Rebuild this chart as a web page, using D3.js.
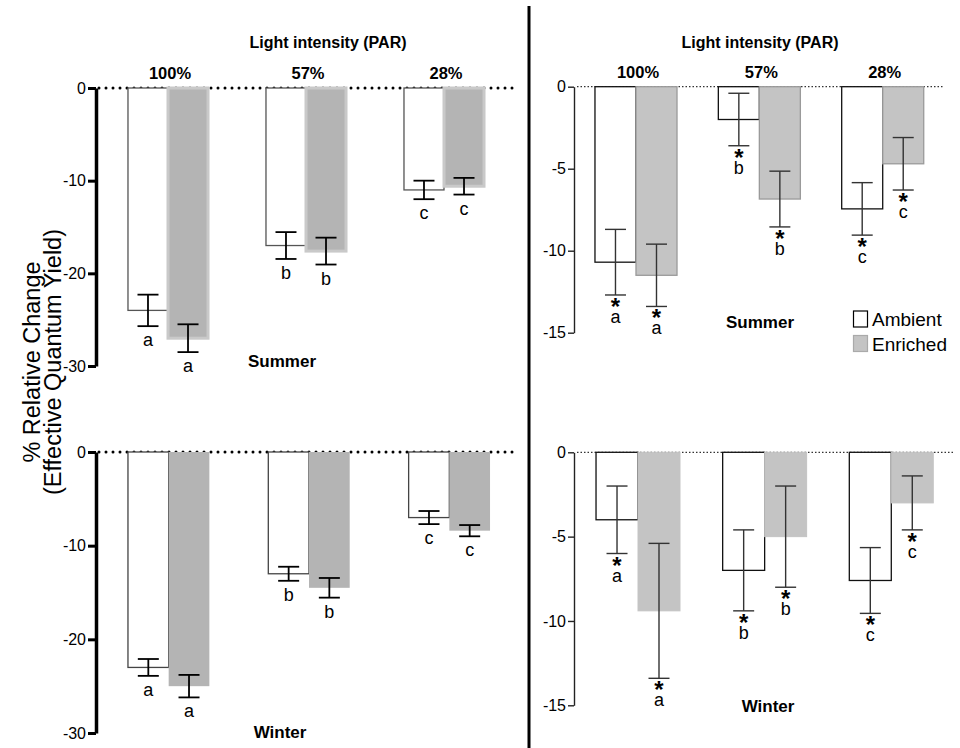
<!DOCTYPE html>
<html>
<head>
<meta charset="utf-8">
<script src="https://cdn.jsdelivr.net/npm/d3@7"></script>
<style>
  body { margin: 0; background: #fff; }
  svg { display: block; }
</style>
</head>
<body>
<svg id="chart" width="960" height="748"></svg>
<script>
const FONT = "'Liberation Sans', Arial, sans-serif";

const LIGHT_LEVELS = ["100%", "57%", "28%"];
const TREATMENTS = ["Ambient", "Enriched"];
const GROUP_LETTERS = ["a", "b", "c"];
const LEFT_TICKS = [0, -10, -20, -30];
const RIGHT_TICKS = [0, -5, -10, -15];

// left half (means and SE, % relative change)
const leftSummerAmbient = [-24.0, -17.0, -11.0];
const leftSummerAmbientSE = [1.7, 1.45, 1.0];
const leftSummerEnriched = [-27.0, -17.6, -10.6];
const leftSummerEnrichedSE = [1.5, 1.45, 0.9];
const leftWinterAmbient = [-23.0, -13.0, -7.0];
const leftWinterAmbientSE = [0.9, 0.75, 0.7];
const leftWinterEnriched = [-25.0, -14.5, -8.4];
const leftWinterEnrichedSE = [1.2, 1.05, 0.6];

// right half
const rightSummerAmbient = [-10.7, -2.0, -7.45];
const rightSummerAmbientSE = [2.0, 1.6, 1.6];
const rightSummerEnriched = [-11.5, -6.85, -4.7];
const rightSummerEnrichedSE = [1.9, 1.7, 1.6];
const rightWinterAmbient = [-4.0, -7.0, -7.6];
const rightWinterAmbientSE = [2.0, 2.4, 1.95];
const rightWinterEnriched = [-9.4, -5.0, -3.0];
const rightWinterEnrichedSE = [4.0, 3.0, 1.6];

const svg = d3.select("#chart");

function drawPanel(cfg) {
    const y = d3.scaleLinear().domain([d3.min(cfg.ticks), 0]).range(cfg.yRange);

    const x0 = d3.scaleBand()
        .domain(LIGHT_LEVELS)
        .range(cfg.xRange)
        .paddingInner(cfg.padInner)
        .paddingOuter(cfg.padOuter);
    const x1 = d3.scaleBand()
        .domain(TREATMENTS)
        .range([0, x0.bandwidth()]);

    const rows = [];
    LIGHT_LEVELS.forEach((lvl, i) => {
        rows.push({ lvl, t: "Ambient", v: cfg.ambient[i], se: cfg.ambientSE[i], letter: GROUP_LETTERS[i] });
        rows.push({ lvl, t: "Enriched", v: cfg.enriched[i], se: cfg.enrichedSE[i], letter: GROUP_LETTERS[i] });
    });
    const cx = (d) => x0(d.lvl) + x1(d.t) + x1.bandwidth() / 2;

    const g = svg.append("g");

    // zero reference line (dotted)
    g.append("line")
        .attr("x1", cfg.axisX + 3).attr("x2", cfg.zeroEnd)
        .attr("y1", y(0)).attr("y2", y(0))
        .attr("stroke", cfg.bold ? "#000" : "#333")
        .attr("stroke-width", cfg.bold ? 3 : 1.2)
        .attr("stroke-linecap", cfg.bold ? "round" : "butt")
        .attr("stroke-dasharray", cfg.bold ? "0 7" : "1.5 2");

    // bars
    g.selectAll(".bar")
        .data(rows)
        .join("rect")
        .attr("class", "bar")
        .attr("x", (d) => x0(d.lvl) + x1(d.t))
        .attr("width", x1.bandwidth())
        .attr("y", y(0))
        .attr("height", (d) => y(d.v) - y(0))
        .attr("fill", (d) => d.t === "Ambient" ? "#fff" : cfg.enrichedFill)
        .attr("stroke", (d) => d.t === "Ambient" ? cfg.ambientStroke : cfg.enrichedStroke)
        .attr("stroke-width", (d) => d.t === "Ambient" ? 1.3 : cfg.enrichedStrokeWidth);

    // error bars
    const err = g.selectAll(".err")
        .data(rows)
        .join("g")
        .attr("class", "err")
        .attr("stroke", cfg.bold ? "#000" : "#333")
        .attr("stroke-width", cfg.bold ? 1.8 : 1.4);
    err.append("line")
        .attr("x1", cx).attr("x2", cx)
        .attr("y1", (d) => y(d.v + d.se)).attr("y2", (d) => y(d.v - d.se));
    err.append("line")
        .attr("x1", (d) => cx(d) - 10.5).attr("x2", (d) => cx(d) + 10.5)
        .attr("y1", (d) => y(d.v + d.se)).attr("y2", (d) => y(d.v + d.se));
    err.append("line")
        .attr("x1", (d) => cx(d) - 10.5).attr("x2", (d) => cx(d) + 10.5)
        .attr("y1", (d) => y(d.v - d.se)).attr("y2", (d) => y(d.v - d.se));

    // group letters, with the significance star above them on the right half
    const marks = g.selectAll(".mark")
        .data(rows)
        .join("text")
        .attr("class", "mark")
        .attr("text-anchor", "middle")
        .style("font-family", FONT)
        .style("font-size", "18px");
    if (cfg.stars) {
        marks.attr("x", cx).attr("y", (d) => y(d.v - d.se) + 20);
        marks.append("tspan")
            .style("font-size", "24px")
            .style("font-weight", "bold")
            .text("*");
        marks.append("tspan")
            .attr("x", cx)
            .attr("dy", 8)
            .text((d) => d.letter);
    } else {
        marks.attr("x", cx)
            .attr("y", (d) => y(d.v - d.se) + 20)
            .text((d) => d.letter);
    }

    // y axis
    const axisG = g.append("g")
        .attr("transform", `translate(${cfg.axisX},0)`)
        .call(d3.axisLeft(y)
            .tickValues(cfg.ticks)
            .tickSize(cfg.bold ? 8 : 6)
            .tickSizeOuter(0)
            .tickPadding(2)
            .tickFormat((d) => String(d)));
    axisG.attr("font-family", null).attr("font-size", null);
    axisG.select(".domain")
        .attr("stroke", cfg.bold ? "#000" : "#222")
        .attr("stroke-width", cfg.bold ? 3.5 : 1.4);
    axisG.selectAll(".tick line")
        .attr("stroke", cfg.bold ? "#000" : "#222")
        .attr("stroke-width", cfg.bold ? 3 : 1.4);
    axisG.selectAll(".tick text")
        .style("font-family", FONT)
        .style("font-size", "16px")
        .style("fill", "#000");

    // category labels (light levels)
    if (cfg.showLevels) {
        g.selectAll(".lvl")
            .data(LIGHT_LEVELS)
            .join("text")
            .attr("class", "lvl")
            .attr("x", (d) => x0(d) + x0.bandwidth() / 2 + 2)
            .attr("y", y(0) - 9)
            .attr("text-anchor", "middle")
            .style("font-family", FONT)
            .style("font-size", "16.5px")
            .style("font-weight", "bold")
            .text((d) => d);
    }

    g.append("text")
        .attr("x", cfg.seasonX)
        .attr("y", cfg.seasonY)
        .attr("text-anchor", "middle")
        .style("font-family", FONT)
        .style("font-size", "17px")
        .style("font-weight", "bold")
        .text(cfg.season);
}

drawPanel({
    ambient: leftSummerAmbient, ambientSE: leftSummerAmbientSE,
    enriched: leftSummerEnriched, enrichedSE: leftSummerEnrichedSE,
    ticks: LEFT_TICKS, yRange: [366, 88],
    xRange: [99, 513], padInner: 0.42, padOuter: 0.21,
    axisX: 96, zeroEnd: 514, bold: true, stars: false, showLevels: true,
    ambientStroke: "#555", enrichedFill: "#b4b4b4", enrichedStroke: "#c9c9c9", enrichedStrokeWidth: 3,
    season: "Summer", seasonX: 282, seasonY: 367,
});
drawPanel({
    ambient: leftWinterAmbient, ambientSE: leftWinterAmbientSE,
    enriched: leftWinterEnriched, enrichedSE: leftWinterEnrichedSE,
    ticks: LEFT_TICKS, yRange: [733, 452],
    xRange: [98.5, 519.5], padInner: 0.42, padOuter: 0.21,
    axisX: 96, zeroEnd: 518, bold: true, stars: false, showLevels: false,
    ambientStroke: "#444", enrichedFill: "#b4b4b4", enrichedStroke: "#b4b4b4", enrichedStrokeWidth: 0,
    season: "Winter", seasonX: 280, seasonY: 738,
});
drawPanel({
    ambient: rightSummerAmbient, ambientSE: rightSummerAmbientSE,
    enriched: rightSummerEnriched, enrichedSE: rightSummerEnrichedSE,
    ticks: RIGHT_TICKS, yRange: [332.7, 86.7],
    xRange: [574, 944.7], padInner: 0.335, padOuter: 0.17,
    axisX: 574, zeroEnd: 943, bold: false, stars: true, showLevels: true,
    ambientStroke: "#111", enrichedFill: "#c4c4c4", enrichedStroke: "#9a9a9a", enrichedStrokeWidth: 1.3,
    season: "Summer", seasonX: 760, seasonY: 328,
});
drawPanel({
    ambient: rightWinterAmbient, ambientSE: rightWinterAmbientSE,
    enriched: rightWinterEnriched, enrichedSE: rightWinterEnrichedSE,
    ticks: RIGHT_TICKS, yRange: [705.3, 452.3],
    xRange: [574.5, 954.8], padInner: 0.337, padOuter: 0.17,
    axisX: 574, zeroEnd: 955, bold: false, stars: true, showLevels: false,
    ambientStroke: "#111", enrichedFill: "#c4c4c4", enrichedStroke: "#c4c4c4", enrichedStrokeWidth: 1,
    season: "Winter", seasonX: 768, seasonY: 712,
});

// headings
[[328, "Light intensity (PAR)"], [760, "Light intensity (PAR)"]].forEach(([x, t]) => {
    svg.append("text")
        .attr("x", x).attr("y", 48)
        .attr("text-anchor", "middle")
        .style("font-family", FONT)
        .style("font-size", "16px")
        .style("font-weight", "bold")
        .text(t);
});

// divider between the two halves
svg.append("line")
    .attr("x1", 529).attr("x2", 529)
    .attr("y1", 6).attr("y2", 748)
    .attr("stroke", "#000").attr("stroke-width", 3);

// y axis title
const titleG = svg.append("g")
    .attr("transform", "translate(0,362) rotate(-90)")
    .style("font-family", FONT)
    .style("font-size", "23.5px")
    .attr("text-anchor", "middle");
titleG.append("text").attr("x", 0).attr("y", 40).text("% Relative Change");
titleG.append("text").attr("x", 0).attr("y", 61).text("(Effective Quantum Yield)");

// legend
const legend = svg.append("g").attr("transform", "translate(853,311)");
TREATMENTS.forEach((t, i) => {
    legend.append("rect")
        .attr("x", 0.5).attr("y", i * 24.5)
        .attr("width", 14).attr("height", 16)
        .attr("fill", i === 0 ? "#fff" : "#c4c4c4")
        .attr("stroke", i === 0 ? "#000" : "#aaa")
        .attr("stroke-width", 1.2);
    legend.append("text")
        .attr("x", 19).attr("y", i * 24.5 + 15)
        .style("font-family", FONT)
        .style("font-size", "19px")
        .text(t);
});
</script>
</body>
</html>
